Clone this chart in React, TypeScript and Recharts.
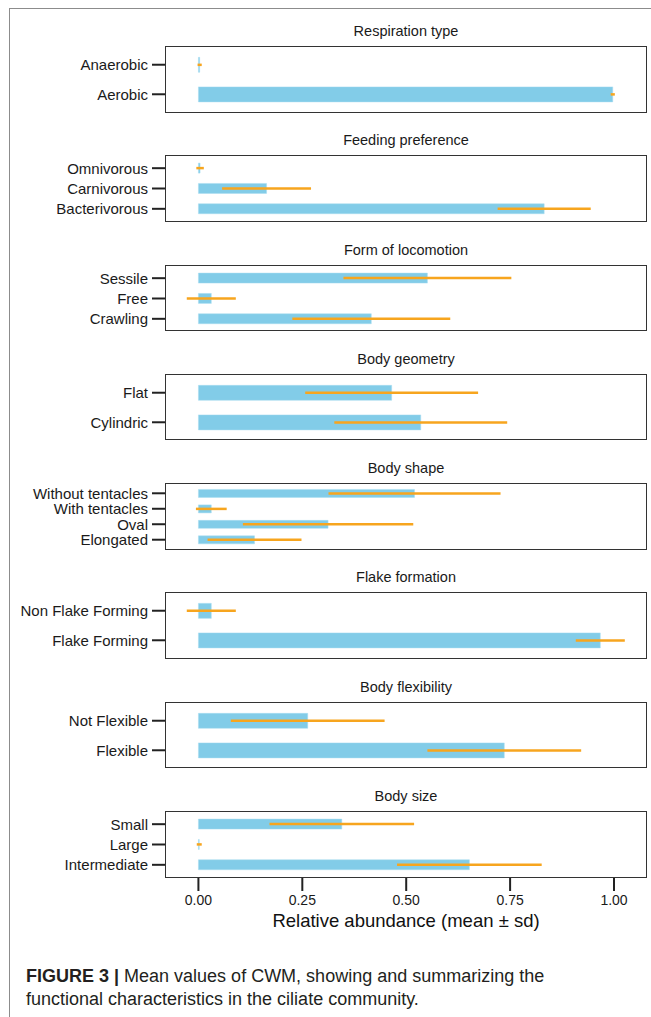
import { Bar, BarChart, ErrorBar, Label, XAxis, YAxis } from "recharts";

const respirationCats = ["Anaerobic", "Aerobic"];
const respirationMean = [0.003, 0.997];
const respirationSd = [0.005, 0.005];

const feedingCats = ["Omnivorous", "Carnivorous", "Bacterivorous"];
const feedingMean = [0.004, 0.164, 0.832];
const feedingSd = [0.009, 0.107, 0.112];

const locomotionCats = ["Sessile", "Free", "Crawling"];
const locomotionMean = [0.551, 0.031, 0.416];
const locomotionSd = [0.202, 0.059, 0.19];

const geometryCats = ["Flat", "Cylindric"];
const geometryMean = [0.465, 0.535];
const geometrySd = [0.208, 0.208];

const shapeCats = ["Without tentacles", "With tentacles", "Oval", "Elongated"];
const shapeMean = [0.52, 0.031, 0.312, 0.135];
const shapeSd = [0.207, 0.037, 0.205, 0.113];

const flakeCats = ["Non Flake Forming", "Flake Forming"];
const flakeMean = [0.031, 0.967];
const flakeSd = [0.059, 0.059];

const flexCats = ["Not Flexible", "Flexible"];
const flexMean = [0.263, 0.736];
const flexSd = [0.185, 0.185];

const sizeCats = ["Small", "Large", "Intermediate"];
const sizeMean = [0.345, 0.002, 0.652];
const sizeSd = [0.174, 0.006, 0.174];

const xTicks = [0, 0.25, 0.5, 0.75, 1];
const X_DOMAIN: [number, number] = [-0.078, 1.077];

const FONT = "'Liberation Sans', Arial, Helvetica, sans-serif";
const BOX_H = 65;
const BOX_LEFT = 166;
const BOX_W = 480;

const panels = [
  { title: "Respiration type", cats: respirationCats, mean: respirationMean, sd: respirationSd, top: 47 },
  { title: "Feeding preference", cats: feedingCats, mean: feedingMean, sd: feedingSd, top: 156 },
  { title: "Form of locomotion", cats: locomotionCats, mean: locomotionMean, sd: locomotionSd, top: 265.5 },
  { title: "Body geometry", cats: geometryCats, mean: geometryMean, sd: geometrySd, top: 374.5 },
  { title: "Body shape", cats: shapeCats, mean: shapeMean, sd: shapeSd, top: 484 },
  { title: "Flake formation", cats: flakeCats, mean: flakeMean, sd: flakeSd, top: 593 },
  { title: "Body flexibility", cats: flexCats, mean: flexMean, sd: flexSd, top: 702.5 },
  { title: "Body size", cats: sizeCats, mean: sizeMean, sd: sizeSd, top: 812 },
];

function Panel({ title, cats, mean, sd, top, last }: any) {
  const data = cats.map((c: string, i: number) => ({ name: c, mean: mean[i], sd: sd[i] }));
  // ggplot-like discrete expansion: 0.6 units each side
  const unit = BOX_H / (cats.length + 0.2);
  const pad = 0.1 * unit;
  const axisH = last ? 70 : 0;
  return (
    <>
      <div
        style={{
          position: "absolute",
          left: BOX_LEFT,
          width: BOX_W,
          top: top - 27,
          height: 22,
          lineHeight: "22px",
          textAlign: "center",
          fontSize: 14.5,
          color: "#1a1a1a",
        }}
      >
        {title}
      </div>
      <div style={{ position: "absolute", left: 0, top: top - 2 }}>
        <BarChart
          layout="vertical"
          width={651}
          height={BOX_H + 4 + axisH}
          data={data}
          margin={{ top: 2, right: 5, bottom: 2, left: 0 }}
          barCategoryGap="25%"
        >
          <XAxis
            type="number"
            domain={X_DOMAIN}
            allowDataOverflow
            ticks={xTicks}
            hide={!last}
            height={axisH}
            axisLine={false}
            tickSize={14}
            tickMargin={4}
            tickLine={{ stroke: "#222", strokeWidth: 2 }}
            tick={{ fontSize: 14, fill: "#1a1a1a", fontFamily: FONT }}
            tickFormatter={(v: number) => v.toFixed(2)}
          >
            {last && (
              <Label
                value="Relative abundance (mean ± sd)"
                position="insideBottom"
                offset={20}
                style={{ fontSize: 18.5, fill: "#111", fontFamily: FONT }}
              />
            )}
          </XAxis>
          <YAxis
            type="category"
            dataKey="name"
            width={BOX_LEFT}
            padding={{ top: pad, bottom: pad }}
            axisLine={false}
            tickSize={14}
            tickMargin={4}
            tickLine={{ stroke: "#222", strokeWidth: 2 }}
            tick={{ fontSize: 15, fill: "#1a1a1a", fontFamily: FONT }}
            interval={0}
          />
          <Bar dataKey="mean" fill="#82CCE8" stroke="#A9DCF0" strokeWidth={0.5} isAnimationActive={false}>
            <ErrorBar
              dataKey="sd"
              direction="x"
              width={0}
              stroke="#F7A51E"
              strokeWidth={2.5}
              isAnimationActive={false}
            />
          </Bar>
        </BarChart>
      </div>
      <div
        style={{
          position: "absolute",
          left: BOX_LEFT - 0.75,
          top: top - 0.75,
          width: BOX_W + 1.5,
          height: BOX_H + 1.5,
          boxSizing: "border-box",
          border: "1.5px solid #333",
          pointerEvents: "none",
        }}
      />
    </>
  );
}

export default function App() {
  return (
    <div
      style={{
        position: "relative",
        width: 651,
        height: 1017,
        background: "#fff",
        fontFamily: FONT,
        overflow: "hidden",
      }}
    >
      <style>{"body{margin:0}"}</style>
      <div
        style={{
          position: "absolute",
          left: 9,
          top: 8,
          width: 700,
          height: 1100,
          borderTop: "1.5px solid #8c8c8c",
          borderLeft: "1.5px solid #8c8c8c",
        }}
      />
      {panels.map((p, i) => (
        <Panel key={p.title} {...p} last={i === panels.length - 1} />
      ))}
      <div
        style={{
          position: "absolute",
          left: 26,
          top: 965,
          fontSize: 18,
          lineHeight: "23px",
          color: "#231f20",
        }}
      >
        <b>FIGURE 3 |</b> Mean values of CWM, showing and summarizing the
        <br />
        functional characteristics in the ciliate community.
      </div>
    </div>
  );
}
